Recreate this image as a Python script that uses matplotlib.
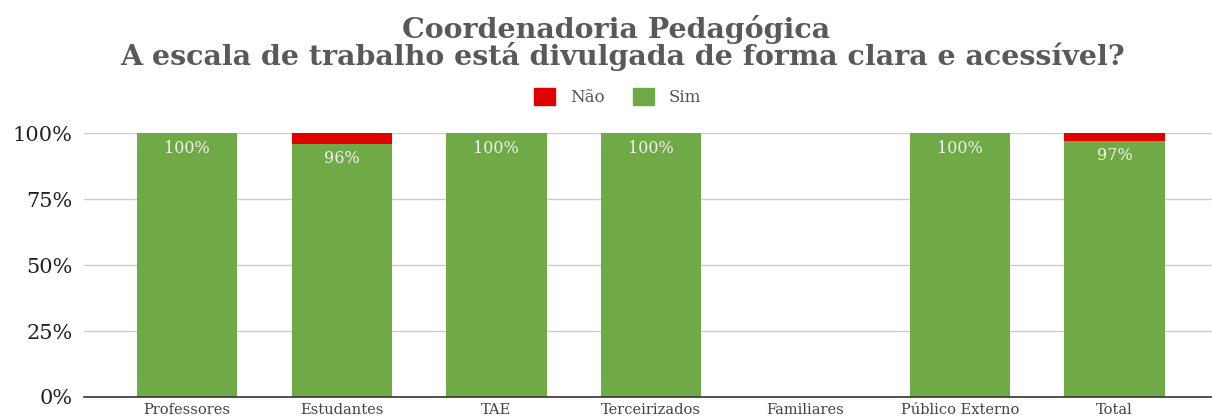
import numpy as np
import matplotlib.pyplot as plt
from matplotlib.patches import Patch

categories = ["Professores", "Estudantes", "TAE", "Terceirizados", "Familiares", "Público Externo", "Total"]
sim = [100, 96, 100, 100, 0, 100, 97]
nao = [0, 4, 0, 0, 0, 0, 3]
yticks = [0, 25, 50, 75, 100]

green = '#6faa46'
red = '#e00000'

fig = plt.figure(figsize=(12.12, 4.17), dpi=100)
ax = fig.add_axes([0.069, 0.048, 0.931, 0.632])

x = np.arange(len(categories))
w = 0.65
ax.bar(x, sim, width=w, color=green, zorder=2)
ax.bar(x, nao, width=w, bottom=sim, color=red, zorder=2)

for xi, v in zip(x, sim):
    if v > 0:
        ax.text(xi, v - 2.3, f"{v}%", ha='center', va='top', fontsize=11.5,
                family='DejaVu Serif', color='#f2f2f2', zorder=3)

ax.set_xlim(-0.67, 6.63)
ax.set_ylim(0, 100)
ax.set_yticks(yticks)
ax.set_yticklabels([f"{t}%" for t in yticks], family='DejaVu Serif', fontsize=15, color='#222222')
ax.set_xticks(x)
ax.set_xticklabels(categories, family='DejaVu Serif', fontsize=10.5, color='#444444')
ax.tick_params(length=0, pad=4)
ax.tick_params(axis='y', pad=8)
ax.grid(axis='y', color='#cccccc', linewidth=1, zorder=0)
for s in ['top', 'right', 'left']:
    ax.spines[s].set_visible(False)
ax.spines['bottom'].set_color('#333333')
ax.spines['bottom'].set_linewidth(1.2)
ax.spines['bottom'].set_zorder(4)

title_kw = dict(ha='center', va='baseline', fontsize=20.5, fontweight='bold',
                family='DejaVu Serif', color='#595959')
fig.text(0.508, 0.909, "Coordenadoria Pedagógica", **title_kw)
fig.text(0.514, 0.843, "A escala de trabalho está divulgada de forma clara e acessível?", **title_kw)

handles = [Patch(color=red, label='Não'), Patch(color=green, label='Sim')]
fig.legend(handles=handles, loc='center', bbox_to_anchor=(0.5095, 0.767), ncol=2, frameon=False,
           prop={'family': 'DejaVu Serif', 'size': 12},
           labelcolor='#555555', handlelength=1.26, handleheight=1.2, columnspacing=1.7, handletextpad=0.9)

fig.savefig('out.png', dpi=100)
